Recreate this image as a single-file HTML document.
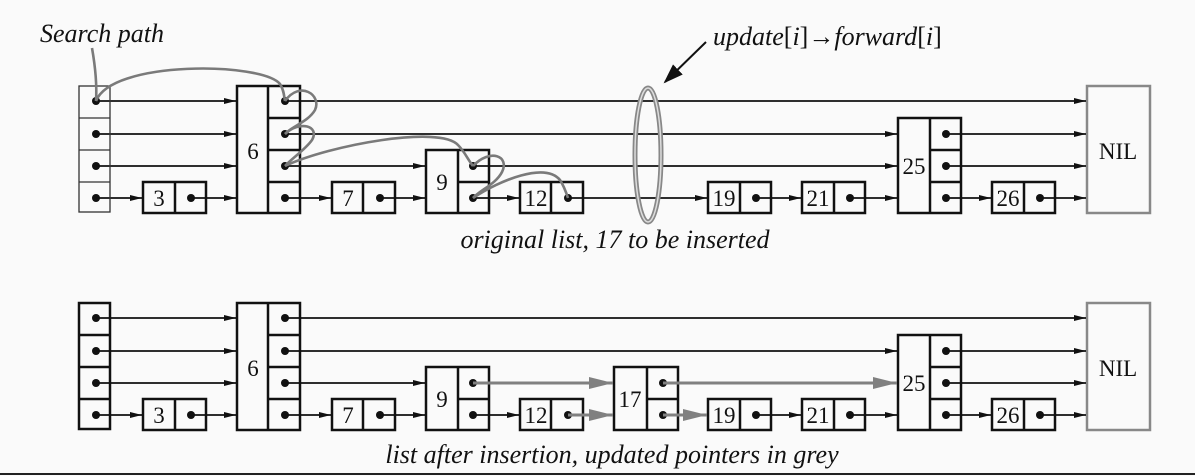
<!DOCTYPE html>
<html><head><meta charset="utf-8"><style>
html,body{margin:0;padding:0;background:#fafafa;}
svg{display:block;}
text{font-family:"Liberation Serif",serif;fill:#111;}
.it{font-style:italic;font-size:26px;}
.n{font-size:23px;}
</style></head><body>
<svg width="1195" height="476" viewBox="0 0 1195 476" xmlns="http://www.w3.org/2000/svg">
<defs>
<marker id="a" markerWidth="12" markerHeight="8" refX="12" refY="4" orient="auto" markerUnits="userSpaceOnUse"><path d="M0,1 L12,4 L0,7 Z" fill="#111"/></marker>
<marker id="g" markerWidth="24" markerHeight="12" refX="24" refY="6" orient="auto" markerUnits="userSpaceOnUse"><path d="M0,0 L24,6 L0,12 Z" fill="#808080"/></marker>
<marker id="b" markerWidth="20" markerHeight="14" refX="18" refY="7" orient="auto" markerUnits="userSpaceOnUse"><path d="M0,0 L20,7 L0,14 Z" fill="#111"/></marker>
<g id="nodes" fill="none" stroke="#111" stroke-width="2.5">
 <rect x="143" y="182" width="63" height="31"/><line x1="175" y1="182" x2="175" y2="213"/>
 <rect x="237" y="86" width="63" height="127"/><line x1="268" y1="86" x2="268" y2="213"/>
 <line x1="268" y1="118" x2="300" y2="118"/><line x1="268" y1="150" x2="300" y2="150"/><line x1="268" y1="182" x2="300" y2="182"/>
 <rect x="332" y="182" width="63" height="31"/><line x1="363" y1="182" x2="363" y2="213"/>
 <rect x="426" y="150" width="63" height="63"/><line x1="458" y1="150" x2="458" y2="213"/><line x1="458" y1="182" x2="489" y2="182"/>
 <rect x="520" y="182" width="63" height="31"/><line x1="551" y1="182" x2="551" y2="213"/>
 <rect x="708" y="182" width="63" height="31"/><line x1="740" y1="182" x2="740" y2="213"/>
 <rect x="802" y="182" width="63" height="31"/><line x1="834" y1="182" x2="834" y2="213"/>
 <rect x="898" y="118" width="63" height="95"/><line x1="930" y1="118" x2="930" y2="213"/>
 <line x1="930" y1="150" x2="961" y2="150"/><line x1="930" y1="182" x2="961" y2="182"/>
 <rect x="992" y="182" width="63" height="31"/><line x1="1024" y1="182" x2="1024" y2="213"/>
 <rect x="1087" y="86" width="63" height="127" stroke="#888"/>
 <g fill="#111" stroke="none">
  <circle cx="96" cy="101" r="4"/><circle cx="96" cy="134" r="4"/><circle cx="96" cy="166" r="4"/><circle cx="96" cy="198" r="4"/>
  <circle cx="191" cy="198" r="4"/>
  <circle cx="285" cy="101" r="4"/><circle cx="285" cy="134" r="4"/><circle cx="285" cy="166" r="4"/><circle cx="285" cy="198" r="4"/>
  <circle cx="380" cy="198" r="4"/><circle cx="473" cy="166" r="4"/><circle cx="473" cy="198" r="4"/>
  <circle cx="568" cy="198" r="4"/><circle cx="756" cy="198" r="4"/><circle cx="850" cy="198" r="4"/>
  <circle cx="946" cy="134" r="4"/><circle cx="946" cy="166" r="4"/><circle cx="946" cy="198" r="4"/><circle cx="1040" cy="198" r="4"/>
 </g>
 <g stroke-width="1.8" marker-end="url(#a)">
  <line x1="96" y1="101" x2="236" y2="101"/><line x1="96" y1="134" x2="236" y2="134"/><line x1="96" y1="166" x2="236" y2="166"/><line x1="96" y1="198" x2="142" y2="198"/>
  <line x1="191" y1="198" x2="236" y2="198"/><line x1="285" y1="101" x2="1086" y2="101"/><line x1="285" y1="134" x2="897" y2="134"/>
  <line x1="285" y1="198" x2="331" y2="198"/><line x1="380" y1="198" x2="425" y2="198"/><line x1="473" y1="198" x2="519" y2="198"/>
  <line x1="756" y1="198" x2="801" y2="198"/><line x1="850" y1="198" x2="897" y2="198"/>
  <line x1="946" y1="134" x2="1086" y2="134"/><line x1="946" y1="166" x2="1086" y2="166"/><line x1="946" y1="198" x2="991" y2="198"/><line x1="1040" y1="198" x2="1086" y2="198"/>
 </g>
</g>
</defs>

<!-- top -->
<use href="#nodes"/>
<g fill="none" stroke="#333" stroke-width="1.3">
 <rect x="79" y="86" width="31" height="126"/><line x1="79" y1="118" x2="110" y2="118"/><line x1="79" y1="150" x2="110" y2="150"/><line x1="79" y1="182" x2="110" y2="182"/>
</g>
<g stroke="#111" stroke-width="1.8" fill="none" marker-end="url(#a)">
 <line x1="285" y1="166" x2="425" y2="166"/><line x1="473" y1="166" x2="897" y2="166"/><line x1="568" y1="198" x2="707" y2="198"/>
</g>
<g fill="none" stroke="#7a7a7a" stroke-width="2.6">
 <path d="M92 48 C95 65 97 85 96 101"/>
 <path d="M96 101 C112 60 262 62 280 84 C284 90 284 96 285 101"/>
 <path d="M285 101 C300 80 322 95 315 110 C308 122 292 126 285 134"/>
 <path d="M285 134 C300 120 320 126 312 140 C305 150 292 158 285 166"/>
 <path d="M285 166 C330 145 440 125 458 145 C465 152 468 160 473 166"/>
 <path d="M473 166 C490 148 510 156 502 172 C496 184 480 190 473 198"/>
 <path d="M473 198 C500 180 545 162 560 180 C564 186 566 192 568 198"/>
</g>
<ellipse cx="648" cy="155" rx="13" ry="67" fill="none" stroke="#888" stroke-width="5"/>
<ellipse cx="648" cy="155" rx="13" ry="67" fill="none" stroke="#ddd" stroke-width="1.5"/>
<line x1="706" y1="42" x2="665" y2="82" stroke="#111" stroke-width="2" marker-end="url(#b)"/>
<g class="n">
 <text x="159" y="206" text-anchor="middle">3</text><text x="253" y="159" text-anchor="middle">6</text>
 <text x="348" y="206" text-anchor="middle">7</text><text x="442" y="190" text-anchor="middle">9</text>
 <text x="536" y="206" text-anchor="middle">12</text><text x="724" y="206" text-anchor="middle">19</text>
 <text x="818" y="206" text-anchor="middle">21</text><text x="914" y="174" text-anchor="middle">25</text>
 <text x="1008" y="206" text-anchor="middle">26</text><text x="1118" y="159" text-anchor="middle">NIL</text>
</g>
<text class="it" x="40" y="42">Search path</text>
<text class="it" x="713" y="45" font-size="25">update<tspan font-style="normal">[</tspan>i<tspan font-style="normal">]→</tspan>forward<tspan font-style="normal">[</tspan>i<tspan font-style="normal">]</tspan></text>
<text class="it" x="615" y="248" text-anchor="middle">original list, 17 to be inserted</text>

<!-- bottom -->
<g transform="translate(0,217)">
 <use href="#nodes"/>
 <g fill="none" stroke="#111" stroke-width="2.5">
  <rect x="79" y="86" width="31" height="126"/><line x1="79" y1="118" x2="110" y2="118"/><line x1="79" y1="150" x2="110" y2="150"/><line x1="79" y1="182" x2="110" y2="182"/>
  <rect x="614" y="150" width="64" height="63"/><line x1="647" y1="150" x2="647" y2="213"/><line x1="647" y1="182" x2="678" y2="182"/>
 </g>
 <circle cx="663" cy="166" r="4" fill="#111"/><circle cx="663" cy="198" r="4" fill="#111"/>
 <line x1="285" y1="166" x2="425" y2="166" stroke="#111" stroke-width="1.8" marker-end="url(#a)"/>
 <g stroke="#808080" stroke-width="3" marker-end="url(#g)">
  <line x1="473" y1="166" x2="613" y2="166"/><line x1="568" y1="198" x2="613" y2="198"/>
  <line x1="663" y1="166" x2="897" y2="166"/><line x1="663" y1="198" x2="707" y2="198"/>
 </g>
 <g class="n">
  <text x="159" y="206" text-anchor="middle">3</text><text x="253" y="159" text-anchor="middle">6</text>
  <text x="348" y="206" text-anchor="middle">7</text><text x="442" y="190" text-anchor="middle">9</text>
  <text x="536" y="206" text-anchor="middle">12</text><text x="630" y="190" text-anchor="middle">17</text>
  <text x="724" y="206" text-anchor="middle">19</text>
  <text x="818" y="206" text-anchor="middle">21</text><text x="914" y="174" text-anchor="middle">25</text>
  <text x="1008" y="206" text-anchor="middle">26</text><text x="1118" y="159" text-anchor="middle">NIL</text>
 </g>
</g>
<text class="it" x="612" y="463" text-anchor="middle">list after insertion, updated pointers in grey</text>
<line x1="0" y1="474" x2="1195" y2="474" stroke="#222" stroke-width="2"/>
</svg>
</body></html>
